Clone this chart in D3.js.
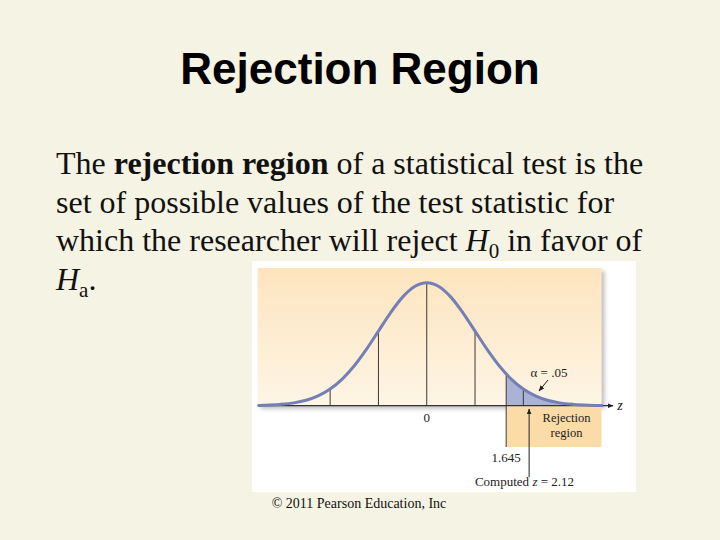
<!DOCTYPE html>
<html>
<head>
<meta charset="utf-8">
<script src="https://cdn.jsdelivr.net/npm/d3@7"></script>
<style>
  html, body { margin: 0; padding: 0; background: #f5f3e3; }
  svg { display: block; }
</style>
</head>
<body>
<svg id="chart" width="720" height="540"></svg>
<script>
// ---- data ----
const titleText = "Rejection Region";
const zValues = [-3.5, -3.25, -3.0, -2.75, -2.5, -2.25, -2.0, -1.75, -1.5, -1.25, -1.0, -0.75, -0.5, -0.25,
                 0, 0.25, 0.5, 0.75, 1.0, 1.25, 1.5, 1.75, 2.0, 2.25, 2.5, 2.75, 3.0, 3.25, 3.5, 3.65];
const densityValues = [0.0009, 0.0020, 0.0044, 0.0091, 0.0175, 0.0317, 0.0540, 0.0863, 0.1295, 0.1826,
                       0.2420, 0.3011, 0.3521, 0.3867, 0.3989, 0.3867, 0.3521, 0.3011, 0.2420, 0.1826,
                       0.1295, 0.0863, 0.0540, 0.0317, 0.0175, 0.0091, 0.0044, 0.0020, 0.0009, 0.0006];
const gridZ = [-3, -2, -1, 0, 1, 2, 3];
const criticalZ = 1.645;
const criticalDensity = 0.1031;
const computedZ = 2.12;
const alphaLabel = "α = .05";
const zeroLabel = "0";
const criticalLabel = "1.645";
const regionLabel = ["Rejection", "region"];
const copyrightText = "© 2011 Pearson Education, Inc";

const svg = d3.select("#chart");
const defs = svg.append("defs");

const grad = defs.append("linearGradient").attr("id", "peach").attr("x1", 0).attr("y1", 0).attr("x2", 0).attr("y2", 1);
grad.append("stop").attr("offset", "0%").attr("stop-color", "#fde4be");
grad.append("stop").attr("offset", "100%").attr("stop-color", "#fef5e5");

const shadow = defs.append("filter").attr("id", "shadow").attr("x", "-5%").attr("y", "-5%").attr("width", "115%").attr("height", "120%");
shadow.append("feDropShadow").attr("dx", 3).attr("dy", 3).attr("stdDeviation", 2)
  .attr("flood-color", "#888").attr("flood-opacity", 0.55);

const arrow = defs.append("marker").attr("id", "arrowhead").attr("viewBox", "0 0 10 10")
  .attr("refX", 9).attr("refY", 5).attr("markerWidth", 6).attr("markerHeight", 6)
  .attr("markerUnits", "userSpaceOnUse").attr("orient", "auto");
arrow.append("path").attr("d", "M0,1 L10,5 L0,9 Z").attr("fill", "#222");

// ---- title ----
svg.append("text").attr("x", 360).attr("y", 84).attr("text-anchor", "middle")
  .attr("font-family", "'Liberation Sans', Arial, sans-serif").attr("font-weight", "bold")
  .attr("font-size", 44).attr("fill", "#000").text(titleText);

// ---- body text ----
const body = svg.append("text").attr("font-family", "'Liberation Serif', 'Times New Roman', serif")
  .attr("font-size", 32).attr("fill", "#111");
const lx = 56;
body.append("tspan").attr("x", lx).attr("y", 174).text("The ");
body.append("tspan").attr("font-weight", "bold").text("rejection region");
body.append("tspan").text(" of a statistical test is the");
body.append("tspan").attr("x", lx).attr("y", 212.5).text("set of possible values of the test statistic for");
body.append("tspan").attr("x", lx).attr("y", 251).text("which the researcher will reject ");
body.append("tspan").attr("font-style", "italic").text("H");
body.append("tspan").attr("font-size", 21).attr("dy", 7).text("0");
body.append("tspan").attr("dy", -7).text(" in favor of");
body.append("tspan").attr("x", lx).attr("y", 289.5).attr("font-style", "italic").text("H");
body.append("tspan").attr("font-size", 21).attr("dy", 7).text("a");
body.append("tspan").attr("dy", -7).text(".");

// ---- figure ----
const x = d3.scaleLinear().domain([-3.5, 3.6]).range([257.7, 600.6]);
const y = d3.scaleLinear().domain([0, 0.3989]).range([405.7, 282.7]);
const y0 = y(0);

// white frame
svg.append("rect").attr("x", 252).attr("y", 261).attr("width", 384).attr("height", 231).attr("fill", "#ffffff");
// peach panel with shadow
svg.append("rect").attr("x", x(-3.5)).attr("y", 268).attr("width", 601.5 - x(-3.5)).attr("height", y0 - 268)
  .attr("fill", "url(#peach)").attr("filter", "url(#shadow)");

// rejection region box
svg.append("rect").attr("x", x(criticalZ)).attr("y", y0).attr("width", 601.5 - x(criticalZ)).attr("height", 447 - y0)
  .attr("fill", "#fbdba7");

const pts = zValues.map((z, i) => ({ z, d: densityValues[i] }));
const tailPts = [{ z: criticalZ, d: criticalDensity }].concat(pts.filter(p => p.z > criticalZ));

// shaded tail
svg.append("path").datum(tailPts)
  .attr("d", d3.area().x(p => x(p.z)).y0(y0).y1(p => y(p.d)).curve(d3.curveMonotoneX))
  .attr("fill", "#aab3d6");

// grid lines under curve
const densAt = z => densityValues[zValues.indexOf(z)];
svg.append("g").selectAll("line").data(gridZ).join("line")
  .attr("x1", z => x(z)).attr("x2", z => x(z))
  .attr("y1", y0).attr("y2", z => Math.min(y(densAt(z)), y0 - 3))
  .attr("stroke", "#3a3a3a").attr("stroke-width", 1);

// critical value line (extends below axis)
svg.append("line").attr("x1", x(criticalZ)).attr("x2", x(criticalZ))
  .attr("y1", y(criticalDensity)).attr("y2", 447)
  .attr("stroke", "#3a3a3a").attr("stroke-width", 1);

// axis line with arrow
svg.append("line").attr("x1", x(-3.5)).attr("x2", 613).attr("y1", y0).attr("y2", y0)
  .attr("stroke", "#333").attr("stroke-width", 1.2).attr("marker-end", "url(#arrowhead)");

// curve
svg.append("path").datum(pts)
  .attr("d", d3.line().x(p => x(p.z)).y(p => y(p.d)).curve(d3.curveMonotoneX))
  .attr("fill", "none").attr("stroke", "#7480b5").attr("stroke-width", 3);

const serif = "'Liberation Serif', 'Times New Roman', serif";
// labels
svg.append("text").attr("x", 620).attr("y", 410).attr("text-anchor", "middle")
  .attr("font-family", serif).attr("font-style", "italic").attr("font-size", 14).attr("fill", "#222").text("z");
svg.append("text").attr("x", x(0)).attr("y", 422).attr("text-anchor", "middle")
  .attr("font-family", serif).attr("font-size", 13).attr("fill", "#222").text(zeroLabel);
svg.append("text").attr("x", x(criticalZ)).attr("y", 462).attr("text-anchor", "middle")
  .attr("font-family", serif).attr("font-size", 13).attr("fill", "#222").text(criticalLabel);
svg.append("text").attr("x", 566.5).attr("y", 422).attr("text-anchor", "middle")
  .attr("font-family", serif).attr("font-size", 12.5).attr("fill", "#222").text(regionLabel[0]);
svg.append("text").attr("x", 566.5).attr("y", 436.5).attr("text-anchor", "middle")
  .attr("font-family", serif).attr("font-size", 12.5).attr("fill", "#222").text(regionLabel[1]);
svg.append("text").attr("x", 549).attr("y", 377).attr("text-anchor", "middle")
  .attr("font-family", serif).attr("font-size", 13).attr("fill", "#222").text(alphaLabel);

const comp = svg.append("text").attr("x", 524.5).attr("y", 486).attr("text-anchor", "middle")
  .attr("font-family", serif).attr("font-size", 13).attr("fill", "#222");
comp.append("tspan").text("Computed ");
comp.append("tspan").attr("font-style", "italic").text("z");
comp.append("tspan").text(" = " + computedZ);

// arrows
svg.append("line").attr("x1", x(computedZ)).attr("x2", x(computedZ)).attr("y1", 477).attr("y2", 409)
  .attr("stroke", "#222").attr("stroke-width", 1).attr("marker-end", "url(#arrowhead)");
svg.append("line").attr("x1", 548).attr("y1", 380).attr("x2", 539).attr("y2", 391)
  .attr("stroke", "#222").attr("stroke-width", 1).attr("marker-end", "url(#arrowhead)");

// copyright
svg.append("text").attr("x", 359).attr("y", 508).attr("text-anchor", "middle")
  .attr("font-family", serif).attr("font-size", 14).attr("fill", "#111").text(copyrightText);
</script>
</body>
</html>
